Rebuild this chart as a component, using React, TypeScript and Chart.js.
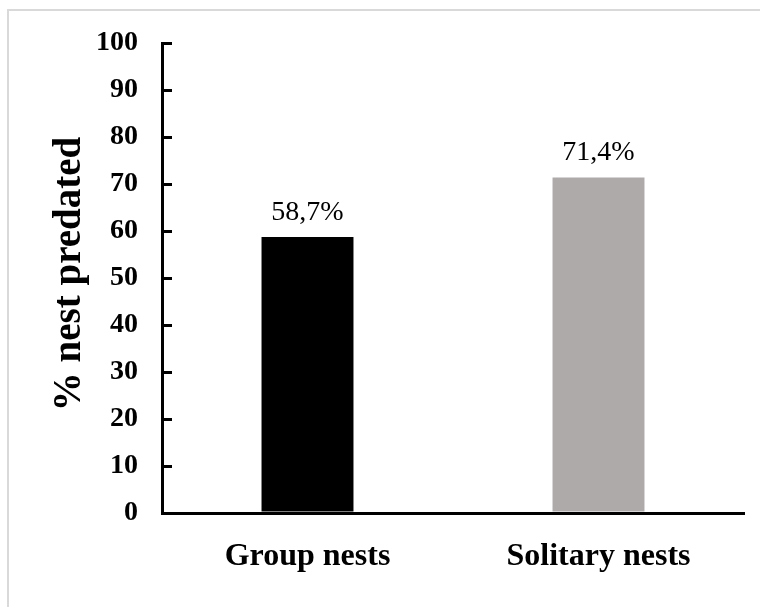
import React, { useEffect, useRef } from "react";
import { Chart, registerables } from "chart.js";

Chart.register(...registerables);

const categories = ["Group nests", "Solitary nests"];
const values = [58.7, 71.4];
const barColors = ["#000000", "#AEAAAA"];
const yTicks = [0, 10, 20, 30, 40, 50, 60, 70, 80, 90, 100];
const yTitle = "% nest predated";

const FONT = "'Liberation Serif', 'Times New Roman', serif";

const valueLabels = {
  id: "valueLabels",
  afterDatasetsDraw(chart: any) {
    const ctx = chart.ctx;
    const meta = chart.getDatasetMeta(0);
    ctx.save();
    ctx.font = `normal 28px ${FONT}`;
    ctx.fillStyle = "#000";
    ctx.textAlign = "center";
    ctx.textBaseline = "alphabetic";
    meta.data.forEach((el: any, i: number) => {
      const v = values[i];
      const txt = v.toFixed(1).replace(".", ",") + "%";
      ctx.fillText(txt, el.x, el.y - 17);
    });
    ctx.restore();
  },
};

const yTitlePlugin = {
  id: "yTitlePlugin",
  afterDraw(chart: any) {
    const ctx = chart.ctx;
    const area = chart.chartArea;
    ctx.save();
    ctx.translate(70, (area.top + area.bottom) / 2 - 4);
    ctx.rotate(-Math.PI / 2);
    ctx.font = `bold 39px ${FONT}`;
    ctx.fillStyle = "#000";
    ctx.textAlign = "center";
    ctx.textBaseline = "middle";
    ctx.fillText(yTitle, 0, 0);
    ctx.restore();
  },
};

export default function App() {
  const ref = useRef<HTMLCanvasElement | null>(null);
  useEffect(() => {
    if (!ref.current) return;
    const chart = new Chart(ref.current, {
      type: "bar",
      data: {
        labels: categories,
        datasets: [
          {
            data: values,
            backgroundColor: barColors,
            borderWidth: 0,
            barPercentage: 0.316,
            categoryPercentage: 1,
          },
        ],
      },
      options: {
        animation: false,
        responsive: false,
        devicePixelRatio: 1,
        layout: { padding: { top: 43, right: 16, left: 0, bottom: 0 } },
        plugins: {
          legend: { display: false },
          tooltip: { enabled: false },
        },
        scales: {
          x: {
            grid: { display: false, drawTicks: false },
            border: { display: true, color: "#000", width: 3 },
            ticks: {
              color: "#000",
              padding: 25,
              font: { family: FONT, size: 32, weight: "bold" },
              maxRotation: 0,
            },
            afterFit(scale: any) {
              scale.height = 94;
              scale.paddingLeft = 0;
              scale.paddingRight = 0;
            },
          },
          y: {
            min: 0,
            max: 100,
            afterBuildTicks(scale: any) {
              scale.ticks = yTicks.map((v) => ({ value: v }));
            },
            grid: {
              display: true,
              drawOnChartArea: false,
              drawTicks: true,
              tickLength: -10,
              color: "#000",
              lineWidth: 3,
            },
            border: { display: true, color: "#000", width: 3 },
            ticks: {
              color: "#000",
              padding: 34,
              font: { family: FONT, size: 28, weight: "bold" },
            },
            afterFit(scale: any) {
              scale.width = 162;
              scale.paddingTop = 0;
              scale.paddingBottom = 0;
            },
          },
        },
      },
      plugins: [valueLabels, yTitlePlugin],
    });
    return () => chart.destroy();
  }, []);

  return (
    <div
      style={{
        position: "fixed",
        left: 0,
        top: 0,
        width: 760,
        height: 607,
        background: "#fff",
        overflow: "hidden",
      }}
    >
      <div
        style={{
          position: "absolute",
          left: 7,
          top: 9,
          width: 770,
          height: 620,
          border: "2px solid #d9d9d9",
          boxSizing: "border-box",
        }}
      />
      <canvas
        ref={ref}
        width={760}
        height={607}
        style={{ position: "absolute", left: 0, top: 0, width: 760, height: 607 }}
      />
    </div>
  );
}
